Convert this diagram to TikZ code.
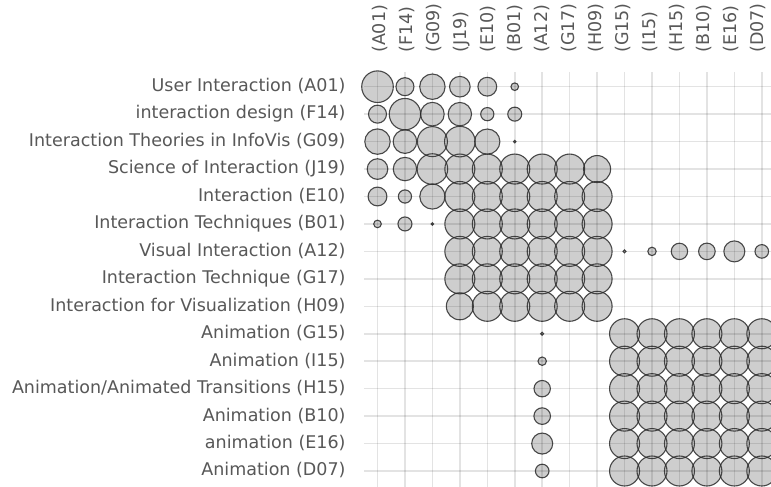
\documentclass[tikz,border=0pt]{standalone}
\usepackage{fontspec}
\setmainfont{DejaVu Sans}
\definecolor{labelgray}{RGB}{88,88,88}
\definecolor{bubgray}{RGB}{206,206,206}
\definecolor{bubedge}{RGB}{45,45,45}
\begin{document}
\begin{tikzpicture}[x=1pt,y=1pt,
  rowlab/.style={anchor=east,inner sep=0pt,text=labelgray,font=\fontsize{17.5}{20}\selectfont},
  collab/.style={anchor=west,rotate=90,inner sep=0pt,text=labelgray,font=\fontsize{17.5}{20}\selectfont},
  gridline/.style={line width=1.5pt,draw=black,draw opacity=0.11},
  bubfill/.style={fill=bubgray},
  bubline/.style={draw=bubedge,draw opacity=0.85,line width=1.1pt}]
\useasboundingbox (0,0) rectangle (771,-487);
\fill[white] (0,0) rectangle (771,-487);
\clip (0,0) rectangle (771,-487);
% bubble macros
\newcommand\bub[3]{\path[\bubstyle] ({377.5+27.45*#2},{-86.7-27.45*#1}) circle[radius=#3];}
\newcommand\sbub[3]{\bub{#1}{#2}{#3}\bub{#2}{#1}{#3}}
\newcommand\allbubs{%
  \bub{0}{0}{15.8}\sbub{0}{1}{9}\sbub{0}{2}{12.7}\sbub{0}{3}{10.3}\sbub{0}{4}{9.4}\sbub{0}{5}{3.8}%
  \bub{1}{1}{15.7}\sbub{1}{2}{11.8}\sbub{1}{3}{11.7}\sbub{1}{4}{6.6}\sbub{1}{5}{7}%
  \bub{2}{2}{15}\sbub{2}{3}{15.3}\sbub{2}{4}{12.6}\sbub{2}{5}{1.2}%
  \foreach \i in {3,...,8}{\foreach \j in {3,...,8}{%
    \ifnum\i\j=38 \bub{\i}{\j}{13.5}\else\ifnum\i\j=83 \bub{\i}{\j}{13.5}\else\bub{\i}{\j}{15}\fi\fi}}%
  \sbub{6}{9}{1.5}\sbub{6}{10}{4.2}\sbub{6}{11}{8.2}\sbub{6}{12}{8.3}\sbub{6}{13}{10.5}\sbub{6}{14}{6.8}%
  \foreach \i in {9,...,14}{\foreach \j in {9,...,14}{\bub{\i}{\j}{15}}}%
}
\def\bubstyle{bubfill}\allbubs
\def\bubstyle{bubline}\allbubs
% grid on top
\foreach \k in {0,...,14}{
  \draw[gridline] (364,{-86.7-27.45*\k}) -- (771,{-86.7-27.45*\k});
  \draw[gridline] ({377.5+27.45*\k},-72) -- ({377.5+27.45*\k},-487);
}
% row labels
\node[rowlab] (rA01) at (345.7,{-86.2-27.45*0}) {User Interaction (A01)};
\node[rowlab] (rF14) at (345.7,{-86.2-27.45*1}) {interaction design (F14)};
\node[rowlab] (rG09) at (345.7,{-86.2-27.45*2}) {Interaction Theories in InfoVis (G09)};
\node[rowlab] (rJ19) at (345.7,{-86.2-27.45*3}) {Science of Interaction (J19)};
\node[rowlab] (rE10) at (345.7,{-86.2-27.45*4}) {Interaction (E10)};
\node[rowlab] (rB01) at (345.7,{-86.2-27.45*5}) {Interaction Techniques (B01)};
\node[rowlab] (rA12) at (345.7,{-86.2-27.45*6}) {Visual Interaction (A12)};
\node[rowlab] (rG17) at (345.7,{-86.2-27.45*7}) {Interaction Technique (G17)};
\node[rowlab] (rH09) at (345.7,{-86.2-27.45*8}) {Interaction for Visualization (H09)};
\node[rowlab] (rG15) at (345.7,{-86.2-27.45*9}) {Animation (G15)};
\node[rowlab] (rI15) at (345.7,{-86.2-27.45*10}) {Animation (I15)};
\node[rowlab] (rH15) at (345.7,{-86.2-27.45*11}) {Animation/Animated Transitions (H15)};
\node[rowlab] (rB10) at (345.7,{-86.2-27.45*12}) {Animation (B10)};
\node[rowlab] (rE16) at (345.7,{-86.2-27.45*13}) {animation (E16)};
\node[rowlab] (rD07) at (345.7,{-86.2-27.45*14}) {Animation (D07)};
% column labels
\foreach \c [count=\n from 0] in {A01,F14,G09,J19,E10,B01,A12,G17,H09,G15,I15,H15,B10,E16,D07}{
  \node[collab] (c\c) at ({380.3+26.95*\n},-53) {(\c)};
}
\end{tikzpicture}
\end{document}
